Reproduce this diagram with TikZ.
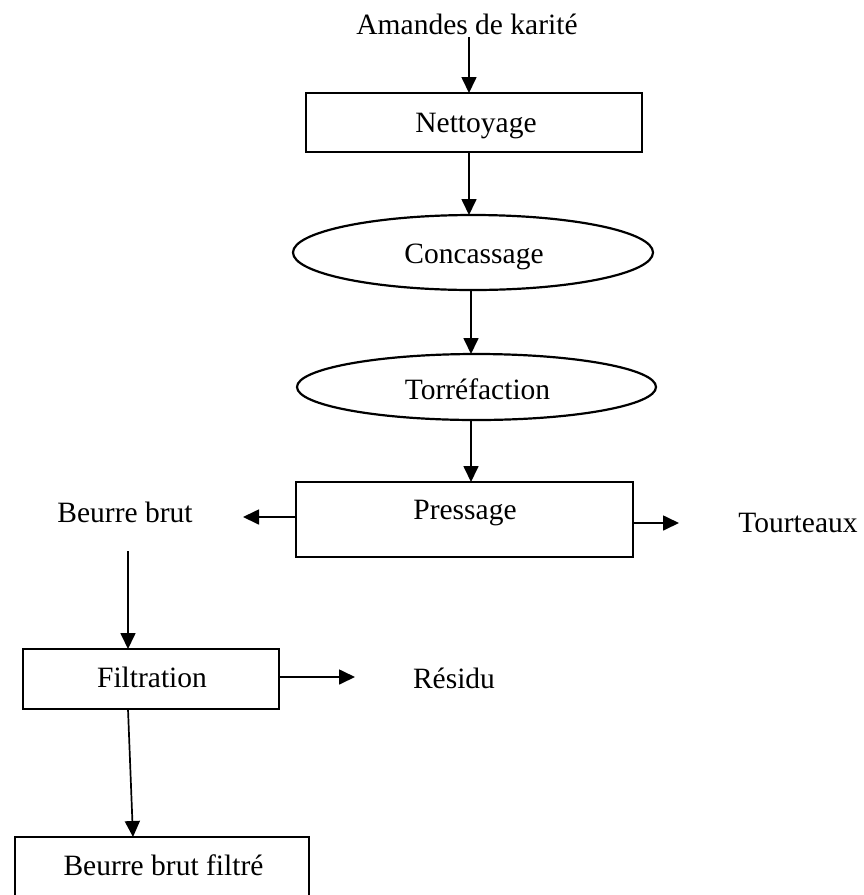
\documentclass[tikz,border=0pt]{standalone}
\usepackage{fontspec}
\setmainfont{Liberation Serif}
\usetikzlibrary{arrows.meta,shapes.geometric}
\begin{document}
\begin{tikzpicture}[x=1pt,y=-1pt,
  txt/.style={inner sep=0pt, anchor=base, font=\fontsize{29.5}{35}\selectfont},
  rectbox/.style={draw, rectangle, inner sep=0pt, outer sep=0pt},
  ellbox/.style={draw, ellipse, inner sep=0pt, outer sep=0pt, line width=2.2pt},
  arr/.style={line width=1.7pt, -{Triangle[length=16pt,width=15pt]}}
]
\useasboundingbox (0,0) rectangle (863,895);
\clip (0,0) rectangle (863,895);
\fill[white] (0,0) rectangle (863,895);

% shapes
\node[rectbox, line width=2.8pt, minimum width=336pt, minimum height=59pt] (net) at (474,122.5) {};
\node[ellbox, minimum width=360pt, minimum height=75pt] (conc) at (473,252.5) {};
\node[ellbox, minimum width=359pt, minimum height=66pt] (torr) at (476.5,387) {};
\node[rectbox, line width=2.8pt, minimum width=337pt, minimum height=75pt] (press) at (464.5,519.5) {};
\node[rectbox, line width=1.8pt, minimum width=256pt, minimum height=60pt] (filt) at (151,679) {};
\node[rectbox, line width=2.2pt, minimum width=294pt, minimum height=80pt] (bbf) at (162,877) {};

% texts
\node[txt] (amandes) at (467,34) {Amandes de karité};
\node[txt] (nettxt) at (476,132) {Nettoyage};
\node[txt] (conctxt) at (474,263) {Concassage};
\node[txt] (torrtxt) at (477.5,399) {Torréfaction};
\node[txt] (presstxt) at (465,519) {Pressage};
\node[txt] (bb) at (125,522) {Beurre brut};
\node[txt] (tourt) at (798,532) {Tourteaux};
\node[txt] (filttxt) at (152,687) {Filtration};
\node[txt] (residu) at (454,688) {Résidu};
\node[txt] (bbftxt) at (163.5,875) {Beurre brut filtré};

% helper coordinates
\coordinate (in0) at (469,37);
\coordinate (a1) at (469,0);
\coordinate (a2) at (471,0);
\coordinate (bbtip) at (243,517);
\coordinate (tttip) at (679,523);
\coordinate (bbdown) at (128,551);
\coordinate (restip) at (355,677);
\coordinate (f1) at (128,0);
\coordinate (f2) at (133,0);

% connectors
\draw[arr] (in0) -- (net.north -| in0);
\draw[arr] (net.south -| a1) -- (conc.north -| a1);
\draw[arr] (conc.south -| a2) -- (torr.north -| a2);
\draw[arr] (torr.south -| a2) -- (press.north -| a2);
\draw[arr] (press.west |- bbtip) -- (bbtip);
\draw[arr] (press.east |- tttip) -- (tttip);
\draw[arr] (bbdown) -- (filt.north -| bbdown);
\draw[arr] (filt.east |- restip) -- (restip);
\draw[arr] (filt.south -| f1) -- (bbf.north -| f2);
\end{tikzpicture}
\end{document}
